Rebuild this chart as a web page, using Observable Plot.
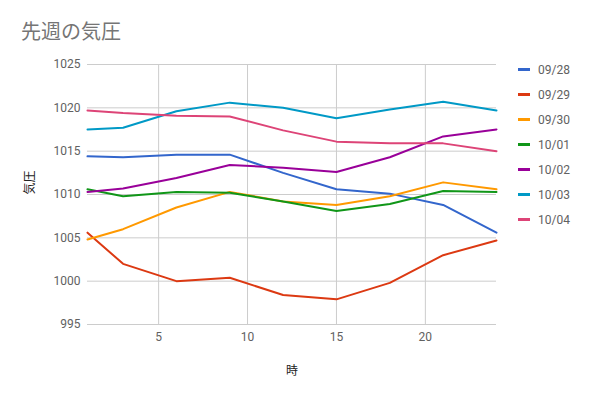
<!DOCTYPE html>
<html><head><meta charset="utf-8">
<script src="https://cdn.jsdelivr.net/npm/d3@7"></script>
<script src="https://cdn.jsdelivr.net/npm/@observablehq/plot@0.6"></script>
<style>
body{margin:0;background:#fff;font-family:Roboto,"Noto Sans CJK JP",sans-serif;}
#wrap{position:relative;width:591px;height:397px;}
#title{position:absolute;left:21px;top:18px;font-size:20px;line-height:26px;color:#757575;font-family:"Noto Sans CJK JP",sans-serif;}
#legend{position:absolute;left:518px;top:57px;font-size:12px;color:#616161;}
.li{height:25px;display:flex;align-items:center;}
.sw{width:12px;height:3px;margin-right:8px;}
</style></head><body>
<div id="wrap"><div id="title">先週の気圧</div><div id="chart"></div><div id="legend"></div></div>
<script>
const hours = [1, 3, 6, 9, 12, 15, 18, 21, 24];
const dates = ["09/28", "09/29", "09/30", "10/01", "10/02", "10/03", "10/04"];
const colors = ["#3366cc", "#dc3912", "#ff9900", "#109618", "#990099", "#0099c6", "#dd4477"];
const s0928 = [1014.4, 1014.3, 1014.6, 1014.6, 1012.5, 1010.6, 1010.1, 1008.8, 1005.6];
const s0929 = [1005.6, 1002.0, 1000.0, 1000.4, 998.4, 997.9, 999.8, 1003.0, 1004.7];
const s0930 = [1004.8, 1006.0, 1008.5, 1010.3, 1009.2, 1008.8, 1009.8, 1011.4, 1010.6];
const s1001 = [1010.6, 1009.8, 1010.3, 1010.2, 1009.2, 1008.1, 1008.9, 1010.4, 1010.3];
const s1002 = [1010.3, 1010.7, 1011.9, 1013.4, 1013.1, 1012.6, 1014.3, 1016.7, 1017.5];
const s1003 = [1017.5, 1017.7, 1019.6, 1020.6, 1020.0, 1018.8, 1019.8, 1020.7, 1019.7];
const s1004 = [1019.7, 1019.4, 1019.1, 1019.0, 1017.4, 1016.1, 1015.9, 1015.9, 1015.0];
const series = [s0928, s0929, s0930, s1001, s1002, s1003, s1004];
const yTicks = [995, 1000, 1005, 1010, 1015, 1020, 1025];
const xTicks = [5, 10, 15, 20];
const xLabel = "時";
const yLabel = "気圧";

const rows = [];
series.forEach((s, i) => s.forEach((v, j) => rows.push({date: dates[i], hour: hours[j], p: v})));

const chart = Plot.plot({
  width: 591, height: 397,
  marginLeft: 87, marginRight: 95, marginTop: 64, marginBottom: 73,
  style: {fontFamily: "Roboto, sans-serif", fontSize: "12px", color: "#616161", background: "#fff"},
  x: {domain: [1, 24], ticks: xTicks, label: null},
  y: {domain: [995, 1025], ticks: yTicks, label: null},
  color: {domain: dates, range: colors},
  marks: [
    Plot.gridX(xTicks, {stroke: "#cccccc", strokeOpacity: 1}),
    Plot.gridY(yTicks, {stroke: "#cccccc", strokeOpacity: 1}),
    Plot.axisX(xTicks, {tickSize: 0, tickPadding: 8, fill: "#616161", fontSize: 12, tickFormat: d3.format("d")}),
    Plot.axisY(yTicks, {tickSize: 0, tickPadding: 7, fill: "#616161", fontSize: 12, tickFormat: d3.format("d")}),
    Plot.line(rows, {x: "hour", y: "p", z: "date", stroke: "date", strokeWidth: 2}),
    Plot.text([xLabel], {frameAnchor: "bottom", dy: 50, fill: "#222", fontSize: 12, fontFamily: "Noto Sans CJK JP"}),
    Plot.text([yLabel], {frameAnchor: "left", dx: -57, rotate: -90, fill: "#222", fontSize: 12, fontFamily: "Noto Sans CJK JP"})
  ]
});
document.getElementById("chart").appendChild(chart);

const lg = document.getElementById("legend");
dates.forEach((d, i) => {
  const el = document.createElement("div");
  el.className = "li";
  el.innerHTML = `<span class="sw" style="background:${colors[i]}"></span><span>${d}</span>`;
  lg.appendChild(el);
});
</script>
</body></html>
